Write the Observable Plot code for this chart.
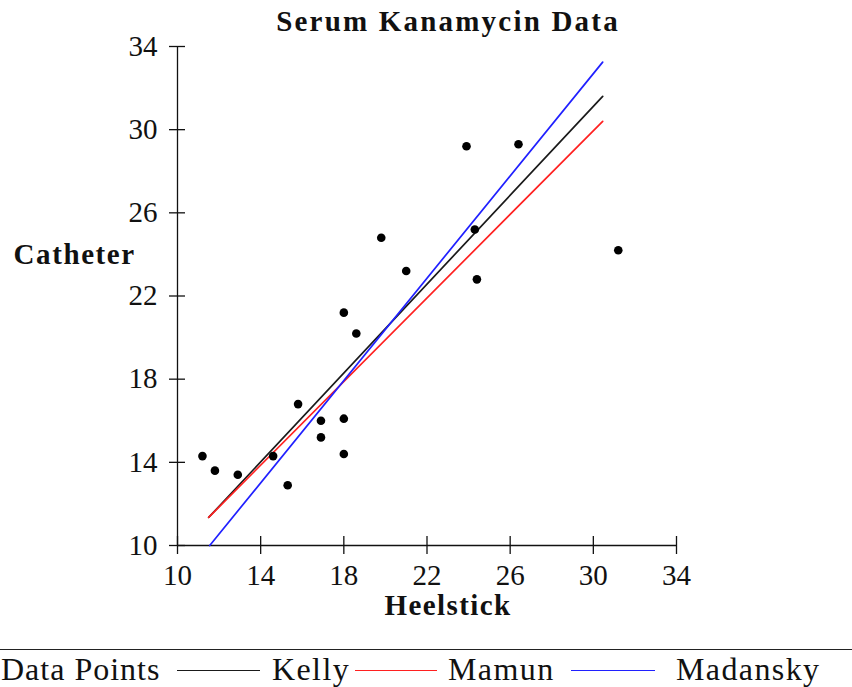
<!DOCTYPE html>
<html><head><meta charset="utf-8">
<script src="https://cdn.jsdelivr.net/npm/d3@7"></script>
<script src="https://cdn.jsdelivr.net/npm/@observablehq/plot@0.6"></script>
<style>
body{margin:0;background:#fff;font-family:"Liberation Serif",serif;overflow:hidden;}
#wrap{position:relative;width:852px;height:687px;}
#legend{position:absolute;left:0;top:649px;width:852px;height:38px;border-top:1.5px solid #222;}
.lt{position:absolute;top:3px;font-size:32px;line-height:32px;color:#111;white-space:nowrap;letter-spacing:1.4px;}
.sw{position:absolute;top:20px;height:0;border-top:1.6px solid;}
</style></head><body><div id="wrap"><div id="chart"></div><div id="legend"></div></div>
<script>
const heelstick = [11.2, 11.8, 12.9, 14.6, 15.3, 15.8, 16.9, 16.9, 18.0, 18.0, 18.0, 18.6, 19.8, 21.0, 23.9, 24.3, 24.4, 26.4, 31.2];
const catheter  = [14.3, 13.6, 13.4, 14.3, 12.9, 16.8, 16.0, 15.2, 21.2, 16.1, 14.4, 20.2, 24.8, 23.2, 29.2, 25.2, 22.8, 29.3, 24.2];
const fitX = [11.5, 30.45];
const kellyY = [11.35, 31.6];
const mamunY = [11.35, 30.4];
const madanskyX = [11.55, 30.45];
const madanskyY = [10, 33.25];
const tickValues = [10, 14, 18, 22, 26, 30, 34];
const seriesNames = ["Kelly", "Mamun", "Madansky"];
const seriesColors = ["#1a1a1a", "#ff2020", "#2020ff"];
const titleText = "Serum Kanamycin Data";
const xLabel = "Heelstick";
const yLabel = "Catheter";

const points = heelstick.map((x, i) => ({x, y: catheter[i]}));
const lines = [
  ...fitX.map((x, i) => ({name: seriesNames[0], x, y: kellyY[i]})),
  ...fitX.map((x, i) => ({name: seriesNames[1], x, y: mamunY[i]})),
  ...madanskyX.map((x, i) => ({name: seriesNames[2], x, y: madanskyY[i]}))
];

const font = "Liberation Serif";
const chart = Plot.plot({
  width: 852, height: 640,
  marginLeft: 177, marginRight: 176, marginTop: 46, marginBottom: 95,
  style: {fontFamily: font, fontSize: "29px", color: "#111", background: "white"},
  x: {domain: [10, 34], ticks: tickValues},
  y: {domain: [10, 34], ticks: tickValues},
  color: {domain: seriesNames, range: seriesColors},
  marks: [
    Plot.axisX({anchor: "bottom", ticks: tickValues, tickSize: 9, tickPadding: 10, label: null, fontSize: 29, strokeWidth: 1.3, strokeOpacity: 1}),
    Plot.axisX({anchor: "bottom", ticks: tickValues, tickSize: -9, tickFormat: () => "", label: null, strokeWidth: 1.3, strokeOpacity: 1}),
    Plot.axisY({anchor: "left", ticks: tickValues, tickSize: 8, tickPadding: 12, label: null, fontSize: 29, strokeWidth: 1.3, strokeOpacity: 1}),
    Plot.axisY({anchor: "left", ticks: tickValues, tickSize: -8, tickFormat: () => "", label: null, strokeWidth: 1.3, strokeOpacity: 1}),
    Plot.ruleX([10], {stroke: "#111", strokeWidth: 1.3}),
    Plot.ruleY([10], {stroke: "#111", strokeWidth: 1.3}),
    Plot.line(lines, {x: "x", y: "y", z: "name", stroke: "name", strokeWidth: 1.7}),
    Plot.dot(points, {x: "x", y: "y", r: 4.3, fill: "black", stroke: "none"}),
    Plot.text([titleText], {frameAnchor: "top", lineAnchor: "middle", dy: -24.3, dx: 21, fontSize: 29, fontWeight: "bold", fill: "#111"}),
    Plot.text([xLabel], {frameAnchor: "bottom", lineAnchor: "middle", dy: 60.7, dx: 21, fontSize: 29, fontWeight: "bold", fill: "#111"}),
    Plot.text([yLabel], {frameAnchor: "left", lineAnchor: "middle", dx: -164, dy: -40.8, textAnchor: "start", fontSize: 29, fontWeight: "bold", fill: "#111"})
  ]
});
d3.select(chart).selectAll("text").each(function() {
  const t = this.textContent;
  if (t === titleText) this.setAttribute("letter-spacing", "2.2px");
  else if (t === xLabel) this.setAttribute("letter-spacing", "1.4px");
  else if (t === yLabel) this.setAttribute("letter-spacing", "1.6px");
});
document.getElementById("chart").appendChild(chart);

const legend = document.getElementById("legend");
const items = [
  {label: "Data Points", textLeft: 1, spacing: "1.0px"},
  {label: seriesNames[0], color: seriesColors[0], lineLeft: 177, lineWidth: 83, textLeft: 272},
  {label: seriesNames[1], color: seriesColors[1], lineLeft: 355, lineWidth: 82, textLeft: 448},
  {label: seriesNames[2], color: seriesColors[2], lineLeft: 571, lineWidth: 84, textLeft: 676}
];
for (const it of items) {
  if (it.color) {
    const s = document.createElement("div");
    s.className = "sw";
    s.style.left = it.lineLeft + "px";
    s.style.width = it.lineWidth + "px";
    s.style.borderTopColor = it.color;
    legend.appendChild(s);
  }
  const t = document.createElement("div");
  t.className = "lt";
  t.style.left = it.textLeft + "px";
  if (it.spacing) t.style.letterSpacing = it.spacing;
  t.textContent = it.label;
  legend.appendChild(t);
}
</script></body></html>
